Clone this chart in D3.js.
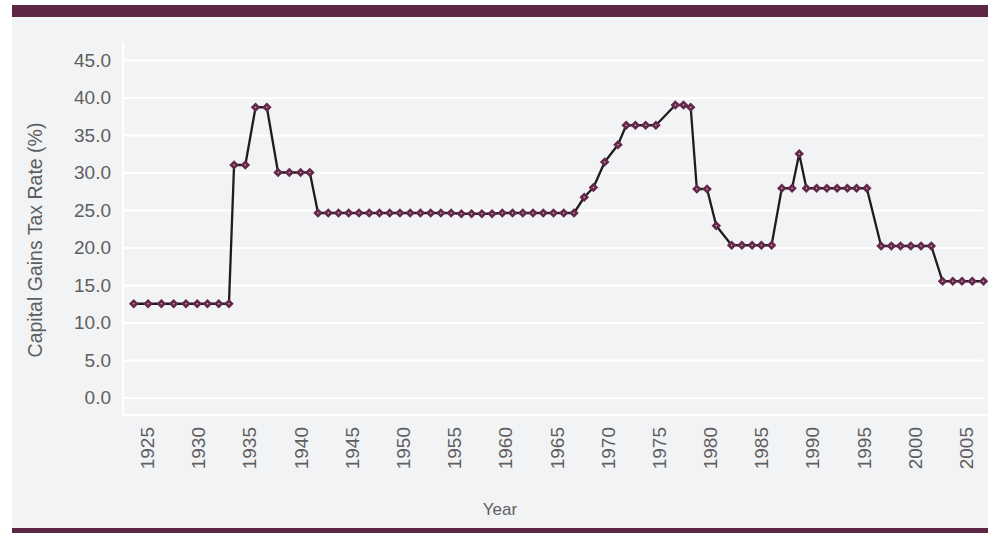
<!DOCTYPE html>
<html>
<head>
<meta charset="utf-8">
<script src="https://cdn.jsdelivr.net/npm/d3@7"></script>
<style>
  body { margin: 0; background: #ffffff; }
  svg { display: block; font-family: "Liberation Sans", Arial, Helvetica, sans-serif; }
</style>
</head>
<body>
<div id="chart"></div>
<script>
// Data (year, max capital gains tax rate %)
var years = [
  1924.0, 1925.4, 1926.7, 1927.9, 1929.1, 1930.2, 1931.2, 1932.3, 1933.3,
  1933.8, 1934.9, 1935.9, 1937.0,
  1938.1, 1939.2, 1940.3, 1941.2,
  1942, 1943, 1944, 1945, 1946, 1947, 1948, 1949, 1950, 1951, 1952, 1953, 1954,
  1955, 1956, 1957, 1958, 1959, 1960, 1961, 1962, 1963, 1964, 1965, 1966, 1967,
  1968.0, 1968.9, 1970.0, 1971.3, 1972.1, 1973.0, 1974.0, 1975.0,
  1976.9, 1977.7, 1978.4, 1979.0, 1980.0, 1980.9,
  1982.4, 1983.4, 1984.4, 1985.3, 1986.3,
  1987.3, 1988.3, 1989.0, 1989.7, 1990.7, 1991.7, 1992.7, 1993.7, 1994.6, 1995.6,
  1997.0, 1998.0, 1998.9, 1999.9, 2000.9, 2001.9,
  2003.0, 2004.0, 2004.9, 2005.9, 2007.0
];
var rates = [
  12.5, 12.5, 12.5, 12.5, 12.5, 12.5, 12.5, 12.5, 12.5,
  31.0, 31.0, 38.7, 38.7,
  30.0, 30.0, 30.0, 30.0,
  24.6, 24.6, 24.6, 24.6, 24.6, 24.6, 24.6, 24.6, 24.6, 24.6, 24.6, 24.6, 24.6,
  24.6, 24.5, 24.5, 24.5, 24.5, 24.6, 24.6, 24.6, 24.6, 24.6, 24.6, 24.6, 24.6,
  26.7, 28.0, 31.4, 33.7, 36.3, 36.3, 36.3, 36.3,
  39.0, 39.0, 38.7, 27.8, 27.8, 22.9,
  20.3, 20.3, 20.3, 20.3, 20.3,
  27.9, 27.9, 32.5, 27.9, 27.9, 27.9, 27.9, 27.9, 27.9, 27.9,
  20.2, 20.2, 20.2, 20.2, 20.2, 20.2,
  15.5, 15.5, 15.5, 15.5, 15.5
];
var yTicks = [0, 5, 10, 15, 20, 25, 30, 35, 40, 45];
var xTicks = [1925, 1930, 1935, 1940, 1945, 1950, 1955, 1960, 1965, 1970,
  1975, 1980, 1985, 1990, 1995, 2000, 2005];

var data = years.map(function(d, i) { return { year: d, rate: rates[i] }; });

var svgWidth = 999;
var svgHeight = 533;

var accent = "#5c2644";
var panelColor = "#f2f3f5";
var textColor = "#5e5e5e";

var svg = d3.select("#chart")
  .append("svg")
  .attr("width", svgWidth)
  .attr("height", svgHeight);

// background panel and the two dark bands
svg.append("rect")
  .attr("x", 12).attr("y", 17)
  .attr("width", 976).attr("height", 511)
  .attr("fill", panelColor);

svg.append("rect")
  .attr("x", 12).attr("y", 5)
  .attr("width", 976).attr("height", 12)
  .attr("fill", accent);

svg.append("rect")
  .attr("x", 12).attr("y", 528)
  .attr("width", 976).attr("height", 5)
  .attr("fill", accent);

// plot area
var plot = { left: 123, right: 983.5, top: 42, bottom: 414 };

var xScale = d3.scaleLinear()
  .domain([1923, 2007])
  .range([plot.left + 0.5, plot.right]);

var yScale = d3.scaleLinear()
  .domain([-2.2, 47.4])
  .range([plot.bottom, plot.top]);

// Gridlines
var grid = svg.append("g")
  .attr("transform", `translate(${plot.left}, 0)`)
  .call(d3.axisLeft(yScale)
    .tickValues(yTicks)
    .tickSize(-(plot.right - plot.left))
    .tickFormat(""));
grid.select(".domain").remove();
grid.selectAll("line")
  .attr("stroke", "#ffffff")
  .attr("stroke-width", 2);

// Y axis labels
var yAxis = svg.append("g")
  .attr("transform", `translate(${plot.left}, 0)`)
  .call(d3.axisLeft(yScale)
    .tickValues(yTicks)
    .tickSize(0)
    .tickPadding(12)
    .tickFormat(d3.format(".1f")));
yAxis.select(".domain").remove();
yAxis.selectAll("text")
  .attr("fill", textColor)
  .style("font-size", "19px");

// axis lines (white)
svg.append("line")
  .attr("x1", plot.left).attr("x2", plot.left)
  .attr("y1", plot.top).attr("y2", plot.bottom + 1)
  .attr("stroke", "#ffffff")
  .attr("stroke-width", 2);

svg.append("line")
  .attr("x1", plot.left).attr("x2", 988)
  .attr("y1", plot.bottom + 1).attr("y2", plot.bottom + 1)
  .attr("stroke", "#ffffff")
  .attr("stroke-width", 2);

// X axis
var xAxis = svg.append("g")
  .attr("transform", `translate(0, ${plot.bottom})`)
  .call(d3.axisBottom(xScale)
    .tickValues(xTicks)
    .tickSize(0)
    .tickFormat(d3.format("d")));
xAxis.select(".domain").remove();
xAxis.selectAll("text")
  .attr("transform", "rotate(-90)")
  .attr("text-anchor", "end")
  .attr("x", -13)
  .attr("y", 0)
  .attr("dy", "0.5em")
  .attr("fill", textColor)
  .style("font-size", "19px");

// Axis titles
svg.append("text")
  .attr("transform", "rotate(-90)")
  .attr("x", -240)
  .attr("y", 42)
  .attr("text-anchor", "middle")
  .attr("fill", textColor)
  .style("font-size", "19.5px")
  .text("Capital Gains Tax Rate (%)");

svg.append("text")
  .attr("x", 500)
  .attr("y", 515)
  .attr("text-anchor", "middle")
  .attr("fill", textColor)
  .style("font-size", "17px")
  .text("Year");

// Line
var line = d3.line()
  .x(d => xScale(d.year))
  .y(d => yScale(d.rate));

svg.append("path")
  .datum(data)
  .attr("d", line)
  .attr("fill", "none")
  .attr("stroke", "#1e1c1d")
  .attr("stroke-width", 2.3)
  .attr("stroke-linejoin", "round");

// Diamond markers
var markers = svg.selectAll(".marker")
  .data(data)
  .enter()
  .append("g")
  .attr("class", "marker")
  .attr("transform", d => `translate(${xScale(d.year)}, ${yScale(d.rate)})`);

markers.append("path")
  .attr("d", d3.symbol().type(d3.symbolSquare).size(46))
  .attr("transform", "rotate(45)")
  .attr("fill", "#64284b");

markers.append("circle")
  .attr("r", 0.8)
  .attr("fill", "#d9c3cf");
</script>
</body>
</html>
